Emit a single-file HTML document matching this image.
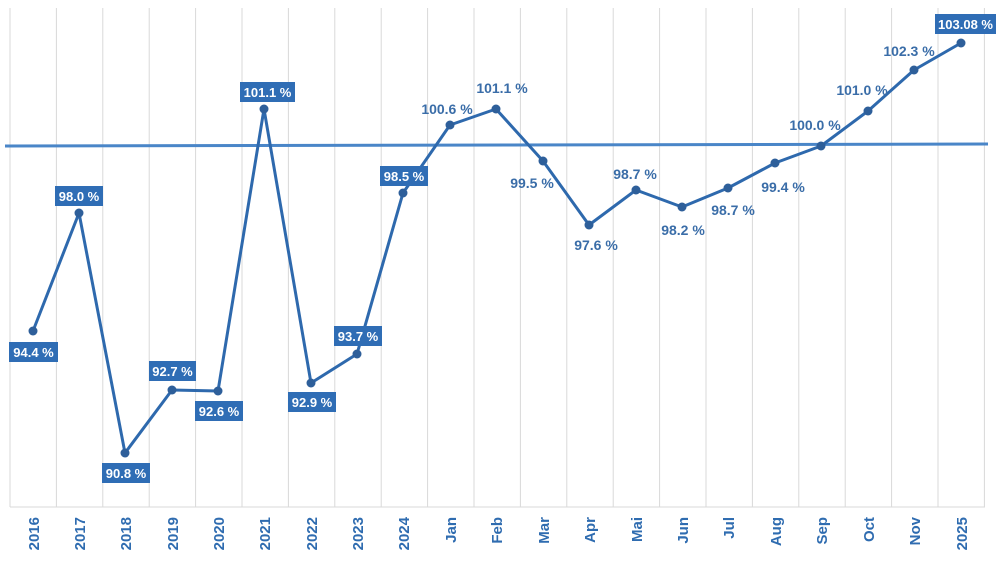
<!DOCTYPE html>
<html><head><meta charset="utf-8"><style>
body{margin:0;background:#fff}
svg{display:block}
text{font-family:"Liberation Sans",Arial,sans-serif;font-weight:bold}
.l{fill:#3a6da8;font-size:14px;text-anchor:middle}
.b{fill:#fff;font-size:13px;text-anchor:middle}
.x{fill:#2f6cb0;font-size:15px;text-anchor:end}
</style></head><body>
<svg width="1000" height="568" viewBox="0 0 1000 568">
<g stroke="#d9d9d9" stroke-width="1">
<line x1="10" y1="8" x2="10" y2="507"/><line x1="56.4" y1="8" x2="56.4" y2="507"/><line x1="102.8" y1="8" x2="102.8" y2="507"/><line x1="149.2" y1="8" x2="149.2" y2="507"/><line x1="195.6" y1="8" x2="195.6" y2="507"/><line x1="242" y1="8" x2="242" y2="507"/><line x1="288.4" y1="8" x2="288.4" y2="507"/><line x1="334.8" y1="8" x2="334.8" y2="507"/><line x1="381.2" y1="8" x2="381.2" y2="507"/><line x1="427.6" y1="8" x2="427.6" y2="507"/><line x1="474" y1="8" x2="474" y2="507"/><line x1="520.4" y1="8" x2="520.4" y2="507"/><line x1="566.8" y1="8" x2="566.8" y2="507"/><line x1="613.2" y1="8" x2="613.2" y2="507"/><line x1="659.6" y1="8" x2="659.6" y2="507"/><line x1="706" y1="8" x2="706" y2="507"/><line x1="752.4" y1="8" x2="752.4" y2="507"/><line x1="798.8" y1="8" x2="798.8" y2="507"/><line x1="845.2" y1="8" x2="845.2" y2="507"/><line x1="891.6" y1="8" x2="891.6" y2="507"/><line x1="938" y1="8" x2="938" y2="507"/><line x1="984.4" y1="8" x2="984.4" y2="507"/>
<line x1="10" y1="507" x2="985" y2="507"/>
</g>
<line x1="5" y1="146" x2="988" y2="144" stroke="#4a86c8" stroke-width="3"/>
<polyline fill="none" stroke="#2e69ad" stroke-width="3" stroke-linejoin="round" points="33,331 79,213 125,453 172,390 218,391 264,109 311,383 357,354 403,193 450,125 496,109 543,161 589,225 636,190 682,207 728,188 775,163 821,146 868,111 914,70 961,43"/>
<g fill="#2e5f9a">
<circle cx="33" cy="331" r="4.5"/><circle cx="79" cy="213" r="4.5"/><circle cx="125" cy="453" r="4.5"/><circle cx="172" cy="390" r="4.5"/><circle cx="218" cy="391" r="4.5"/><circle cx="264" cy="109" r="4.5"/><circle cx="311" cy="383" r="4.5"/><circle cx="357" cy="354" r="4.5"/><circle cx="403" cy="193" r="4.5"/><circle cx="450" cy="125" r="4.5"/><circle cx="496" cy="109" r="4.5"/><circle cx="543" cy="161" r="4.5"/><circle cx="589" cy="225" r="4.5"/><circle cx="636" cy="190" r="4.5"/><circle cx="682" cy="207" r="4.5"/><circle cx="728" cy="188" r="4.5"/><circle cx="775" cy="163" r="4.5"/><circle cx="821" cy="146" r="4.5"/><circle cx="868" cy="111" r="4.5"/><circle cx="914" cy="70" r="4.5"/><circle cx="961" cy="43" r="4.5"/>
</g>
<g fill="#2f6db5">
<rect x="9" y="342" width="49" height="20"/><rect x="55" y="186" width="48" height="20"/><rect x="102" y="463" width="48" height="20"/><rect x="149" y="361" width="47" height="20"/><rect x="195" y="401" width="48" height="20"/><rect x="240" y="82" width="55" height="20"/><rect x="288" y="392" width="48" height="20"/><rect x="334" y="326" width="48" height="20"/><rect x="380" y="166" width="48" height="20"/><rect x="935" y="14" width="61" height="20"/>
</g>
<g class="b">
<text x="33.5" y="357">94.4 %</text><text x="79" y="201">98.0 %</text><text x="126" y="478">90.8 %</text><text x="172.5" y="376">92.7 %</text><text x="219" y="416">92.6 %</text><text x="267.5" y="97">101.1 %</text><text x="312" y="407">92.9 %</text><text x="358" y="341">93.7 %</text><text x="404" y="181">98.5 %</text><text x="965.5" y="29">103.08 %</text>
</g>
<g class="l">
<text x="447" y="114">100.6 %</text><text x="502" y="93">101.1 %</text><text x="532" y="188">99.5 %</text><text x="596" y="250">97.6 %</text><text x="635" y="179">98.7 %</text><text x="683" y="235">98.2 %</text><text x="733" y="215">98.7 %</text><text x="783" y="192">99.4 %</text><text x="815" y="130">100.0 %</text><text x="862" y="95">101.0 %</text><text x="909" y="56">102.3 %</text>
</g>
<g class="x">
<text transform="translate(39,517) rotate(-90)">2016</text><text transform="translate(85,517) rotate(-90)">2017</text><text transform="translate(131,517) rotate(-90)">2018</text><text transform="translate(178,517) rotate(-90)">2019</text><text transform="translate(224,517) rotate(-90)">2020</text><text transform="translate(270,517) rotate(-90)">2021</text><text transform="translate(317,517) rotate(-90)">2022</text><text transform="translate(363,517) rotate(-90)">2023</text><text transform="translate(409,517) rotate(-90)">2024</text><text transform="translate(456,517) rotate(-90)">Jan</text><text transform="translate(502,517) rotate(-90)">Feb</text><text transform="translate(549,517) rotate(-90)">Mar</text><text transform="translate(595,517) rotate(-90)">Apr</text><text transform="translate(642,517) rotate(-90)">Mai</text><text transform="translate(688,517) rotate(-90)">Jun</text><text transform="translate(734,517) rotate(-90)">Jul</text><text transform="translate(781,517) rotate(-90)">Aug</text><text transform="translate(827,517) rotate(-90)">Sep</text><text transform="translate(874,517) rotate(-90)">Oct</text><text transform="translate(920,517) rotate(-90)">Nov</text><text transform="translate(967,517) rotate(-90)">2025</text>
</g>
</svg>
</body></html>
